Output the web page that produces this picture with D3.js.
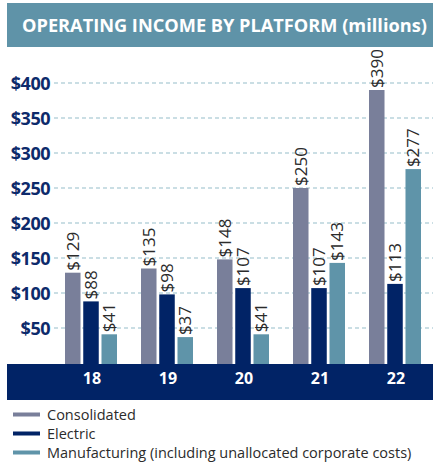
<!DOCTYPE html>
<html>
<head>
<meta charset="utf-8">
<script src="https://cdn.jsdelivr.net/npm/d3@7"></script>
<style>
  body { margin: 0; background: #fff; }
  svg { display: block; font-family: "Open Sans", sans-serif; }
</style>
</head>
<body>
<script>
// chart data
const years = ['18', '19', '20', '21', '22'];
const seriesNames = ['Consolidated', 'Electric', 'Manufacturing (including unallocated corporate costs)'];
const consolidated = [129, 135, 148, 250, 390];
const electric = [88, 98, 107, 107, 113];
const manufacturing = [41, 37, 41, 143, 277];
const yTicks = [50, 100, 150, 200, 250, 300, 350, 400];

const colors = ['#797f9a', '#012366', '#5f94a9'];
const W = 433, H = 465;

const svg = d3.select('body').append('svg')
    .attr('width', W)
    .attr('height', H);

// title banner
svg.append('rect')
    .attr('x', 7).attr('y', 3)
    .attr('width', W - 7).attr('height', 44)
    .attr('fill', '#5f93a8');
svg.append('text')
    .attr('x', 22).attr('y', 32)
    .attr('fill', '#fff')
    .attr('font-weight', 700)
    .attr('font-size', 18.2)
    .text('OPERATING INCOME BY PLATFORM (millions)');

const y = d3.scaleLinear().domain([0, 400]).range([363, 83]);
const x = d3.scaleBand().domain(years).range([53, 433]);
const inner = d3.scaleBand().domain([0, 1, 2]).range([-26, 26]).paddingInner(0.15);

// gridlines
svg.append('g').selectAll('line')
    .data(yTicks)
    .join('line')
    .attr('x1', 54).attr('x2', W)
    .attr('y1', d => y(d)).attr('y2', d => y(d))
    .attr('stroke', '#b9d3dc')
    .attr('stroke-width', 1.5)
    .attr('stroke-dasharray', '4,3');

// y labels
svg.append('g').selectAll('text')
    .data(yTicks)
    .join('text')
    .attr('x', 50)
    .attr('y', d => y(d) + 6.5)
    .attr('text-anchor', 'end')
    .attr('fill', '#0d2a6b')
    .attr('font-weight', 700)
    .attr('font-size', 18)
    .attr('letter-spacing', -0.5)
    .text(d => '$' + d);

// bars
const allSeries = [consolidated, electric, manufacturing];
allSeries.forEach((vals, si) => {
    const g = svg.append('g');
    g.selectAll('rect')
        .data(vals)
        .join('rect')
        .attr('x', (d, i) => x(years[i]) + x.bandwidth() / 2 + inner(si))
        .attr('y', d => y(d))
        .attr('width', inner.bandwidth())
        .attr('height', d => y(0) - y(d) + 1)
        .attr('fill', colors[si]);
    g.selectAll('text')
        .data(vals)
        .join('text')
        .attr('transform', (d, i) => {
            const cx = x(years[i]) + x.bandwidth() / 2 + inner(si) + inner.bandwidth() / 2 + 6;
            return `translate(${cx},${y(d) - 2}) rotate(-90)`;
        })
        .attr('fill', '#2b2b2b')
        .attr('font-size', 17)
        .text(d => '$' + d);
});

// category band
svg.append('rect')
    .attr('x', 7).attr('y', 364)
    .attr('width', W - 7).attr('height', 36)
    .attr('fill', '#012366');
svg.append('g').selectAll('text')
    .data(years)
    .join('text')
    .attr('x', d => x(d) + x.bandwidth() / 2 + 1)
    .attr('y', 384)
    .attr('text-anchor', 'middle')
    .attr('fill', '#fff')
    .attr('font-weight', 700)
    .attr('font-size', 16)
    .text(d => d);

// legend
const legend = svg.append('g').selectAll('g')
    .data(seriesNames)
    .join('g')
    .attr('transform', (d, i) => `translate(13,${414.5 + i * 19})`);
legend.append('rect')
    .attr('x', 0).attr('y', -2)
    .attr('width', 27).attr('height', 4)
    .attr('fill', (d, i) => colors[i]);
legend.append('text')
    .attr('x', 34).attr('y', 5)
    .attr('fill', '#2b2b2b')
    .attr('font-size', 14.5)
    .text(d => d);
</script>
</body>
</html>
